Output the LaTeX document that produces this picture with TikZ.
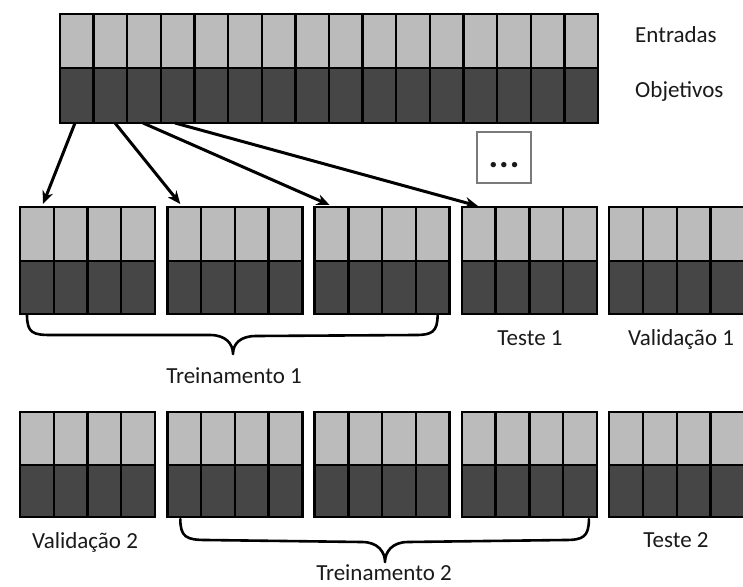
\documentclass[tikz,border=0pt]{standalone}
\usepackage{fontspec}
\setmainfont{Carlito}
\usetikzlibrary{arrows.meta,calc}
\definecolor{cellhi}{HTML}{BBBBBB}
\definecolor{celllo}{HTML}{464646}
\definecolor{ink}{HTML}{1A1A1A}
\definecolor{boxgray}{HTML}{7A7A7A}

\tikzset{
  gridline/.style={line width=2.4pt, black},
  blockframe/.style={draw=black, line width=2.4pt, inner sep=0pt, outer sep=0pt},
  lbl/.style={font=\fontsize{23}{26}\selectfont, text=ink, inner sep=0pt},
  splitarrow/.style={line width=3pt, -{Stealth[length=13pt, width=11pt]}},
  bracepath/.style={line width=2.6pt, black, line cap=round, line join=round},
}

% one block of cells: name, left x, top y, cells, cell width, upper height, lower height
\newcommand\foldblock[7]{%
  \fill[cellhi] (#2,#3) rectangle ({#2+#4*#5},{#3+#6});
  \fill[celllo] (#2,{#3+#6}) rectangle ({#2+#4*#5},{#3+#6+#7});
  \draw[gridline] (#2,{#3+#6}) -- ({#2+#4*#5},{#3+#6});
  \pgfmathtruncatemacro\lastcell{#4-1}
  \foreach \k in {1,...,\lastcell} \draw[gridline] ({#2+\k*#5},#3) -- ({#2+\k*#5},{#3+#6+#7});
  \node[blockframe, minimum width={#4*#5*1pt}, minimum height={(#6+#7)*1pt}, anchor=north west] (#1) at (#2,#3) {};
}

\begin{document}
\begin{tikzpicture}[x=1pt, y=-1pt]
\useasboundingbox[fill=white] (0,0) rectangle (743,586);

% complete data set
\foldblock{all}{60}{14}{16}{33.625}{54}{55}

% first split
\foldblock{fa}{20}{207}{4}{33.75}{54}{53}
\foldblock{fb}{167.3}{207}{4}{33.75}{54}{53}
\foldblock{fc}{314.6}{207}{4}{33.75}{54}{53}
\foldblock{fd}{461.9}{207}{4}{33.75}{54}{53}
\foldblock{fe}{609.2}{207}{4}{33.75}{54}{53}

% second split
\foldblock{ga}{20}{412}{4}{33.75}{53}{52}
\foldblock{gb}{167.3}{412}{4}{33.75}{53}{52}
\foldblock{gc}{314.6}{412}{4}{33.75}{53}{52}
\foldblock{gd}{461.9}{412}{4}{33.75}{53}{52}
\foldblock{ge}{609.2}{412}{4}{33.75}{53}{52}

% row labels
\node[lbl, anchor=base west] (entradas) at (635,42) {Entradas};
\node[lbl, anchor=base west] (objetivos) at (635,97) {Objetivos};

% ellipsis box (the strut pushes the dots below the centre)
\node[draw=boxgray, line width=1.3pt, minimum width=54pt, minimum height=51pt, inner sep=0pt,
      font=\fontsize{36}{36}\selectfont\bfseries, text=ink] (more) at (504,157.5)
      {\rule{0pt}{19.6pt}.\kern1pt.\kern1pt.};

% arrows from the data set into the folds
\coordinate (s1) at ($(all.south west)+(15,0)$);
\coordinate (s2) at ($(all.south west)+(55,0)$);
\coordinate (s3) at ($(all.south west)+(83,0)$);
\coordinate (s4) at ($(all.south west)+(115,0)$);
\coordinate (t1) at ($(fa.north west)+(23,-3)$);
\coordinate (t2) at ($(fb.north west)+(13,-3)$);
\coordinate (t3) at ($(fc.north west)+(15,-2)$);
\coordinate (t4) at ($(fd.north west)+(16,-1)$);
\draw[splitarrow] (s1) -- (t1);
\draw[splitarrow] (s2) -- (t2);
\draw[splitarrow] (s3) -- (t3);
\draw[splitarrow] (s4) -- (t4);

% brace under the first training set
\coordinate (b1l) at ($(fa.south west)+(7,1)$);
\coordinate (b1r) at ($(fc.south east)+(-12,1)$);
\draw[bracepath] (b1l) .. controls ($(b1l)+(0,18)$) and ($(b1l)+(6,20)$) .. ($(b1l)+(24,20)$)
  -- (210,335) .. controls (226,335) and (233,344) .. (233,354)
  .. controls (233,344) and (240,336) .. (256,336)
  -- ($(b1r)+(-22,20)$) .. controls ($(b1r)+(-6,20)$) and ($(b1r)+(0,17)$) .. (b1r);
\node[lbl, anchor=base] (tr1) at (234,383) {Treinamento 1};
\node[lbl, anchor=base] (te1) at (530,345) {Teste 1};
\node[lbl, anchor=base] (va1) at (681,345) {Validação 1};

% brace under the second training set
\coordinate (b2l) at ($(gb.south west)+(13,2)$);
\coordinate (b2r) at ($(gd.south east)+(-8,2)$);
\draw[bracepath] (b2l) .. controls ($(b2l)+(0,18)$) and ($(b2l)+(6,21)$) .. ($(b2l)+(26,21)$)
  -- (362,542) .. controls (378,542) and (385,552) .. (385,562)
  .. controls (385,552) and (392,542) .. (408,542)
  -- ($(b2r)+(-24,21)$) .. controls ($(b2r)+(-6,21)$) and ($(b2r)+(0,18)$) .. (b2r);
\node[lbl, anchor=base] (va2) at (85,548) {Validação 2};
\node[lbl, anchor=base] (tr2) at (384,580) {Treinamento 2};
\node[lbl, anchor=base] (te2) at (676,547) {Teste 2};
\end{tikzpicture}
\end{document}
